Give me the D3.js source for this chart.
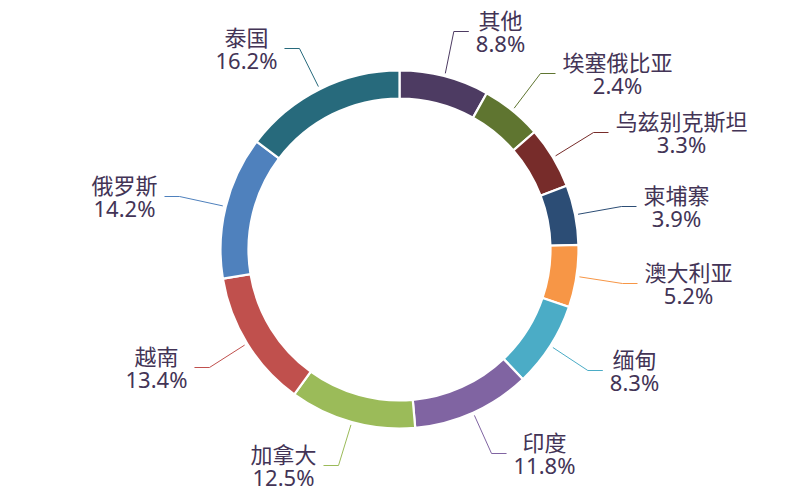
<!DOCTYPE html>
<html>
<head>
<meta charset="utf-8">
<script src="https://cdn.jsdelivr.net/npm/d3@7"></script>
<style>
  body { margin: 0; background: #fff; }
  svg { display: block; }
  .label text { font-family: "Noto Sans", "Noto Sans CJK SC", sans-serif; font-size: 22px; fill: #433456; }
</style>
</head>
<body>
<div id="chart"></div>
<script>
// slices clockwise from 12 o'clock
const categories = ["其他", "埃塞俄比亚", "乌兹别克斯坦", "柬埔寨", "澳大利亚", "缅甸", "印度", "加拿大", "越南", "俄罗斯", "泰国"];
// percentages printed in the labels
const shareText = [8.8, 2.4, 3.3, 3.9, 5.2, 8.3, 11.8, 12.5, 13.4, 14.2, 16.2];
// slice sizes as drawn in the picture (the small ones are drawn wider than their label)
const arcShare = [8.1, 5.5, 5.6, 5.4, 5.6, 7.7, 10.7, 11.4, 12.4, 12.9, 14.7];
const colors = ["#4d3b62", "#5f7530", "#772c2a", "#2c4d75", "#f79646", "#4bacc6",
                "#8064a2", "#9bbb59", "#c0504d", "#4f81bd", "#276a7c"];

// label block centre, relative to the ring centre (hand placed, as in the original)
const labelOffset = [
  [101, -218], [218, -176], [282, -117], [277, -43], [289, 34], [235, 121],
  [145, 204], [-116, 216], [-243, 118], [-275, -53], [-153, -201]
];

const width = 800;
const height = 500;
const cx = 399.5, cy = 249.5;
const innerR = 151, outerR = 179;

const slices = categories.map((name, i) => ({
  name,
  share: shareText[i],
  size: arcShare[i],
  color: colors[i],
  offset: labelOffset[i]
}));

const svg = d3.select("#chart")
  .append("svg")
  .attr("width", width)
  .attr("height", height);

const g = svg.append("g")
  .attr("transform", `translate(${cx},${cy})`);

const pie = d3.pie()
  .sort(null)
  .value((d) => d.size);

const arcs = pie(slices);

const arc = d3.arc()
  .innerRadius(innerR)
  .outerRadius(outerR);

const edge = d3.arc()
  .innerRadius(outerR + 3)
  .outerRadius(outerR + 3);

g.append("g")
  .selectAll("path")
  .data(arcs)
  .join("path")
  .attr("d", arc)
  .attr("fill", (d) => d.data.color)
  .attr("stroke", "#fff")
  .attr("stroke-width", 2.2);

const fmt = d3.format(".1f");

const labels = g.append("g")
  .attr("class", "label")
  .selectAll("text")
  .data(arcs)
  .join("text")
  .attr("text-anchor", "middle")
  .attr("transform", (d) => `translate(${d.data.offset[0]},${d.data.offset[1]})`);

labels.append("tspan")
  .attr("x", 0)
  .attr("y", -3)
  .text((d) => d.data.name);

labels.append("tspan")
  .attr("x", 0)
  .attr("y", 20.5)
  .text((d) => fmt(d.data.share) + "%");

// leader lines: slice edge -> elbow -> short horizontal to the label
const leaders = g.append("g").attr("fill", "none");

labels.each(function (d) {
  const spans = d3.select(this).selectAll("tspan").nodes();
  const w = d3.max(spans, (t) => t.getComputedTextLength());
  const [lx, ly] = d.data.offset;
  const right = lx > 0;
  const end = right ? lx - w / 2 - 7 : lx + w / 2 + 7;
  const elbow = right ? end - 15 : end + 15;
  const start = edge.centroid(d);
  leaders.append("polyline")
    .attr("points", [start, [elbow, ly], [end, ly]].map((p) => p.join(",")).join(" "))
    .attr("stroke", d.data.color)
    .attr("stroke-width", 1);
});
</script>
</body>
</html>
